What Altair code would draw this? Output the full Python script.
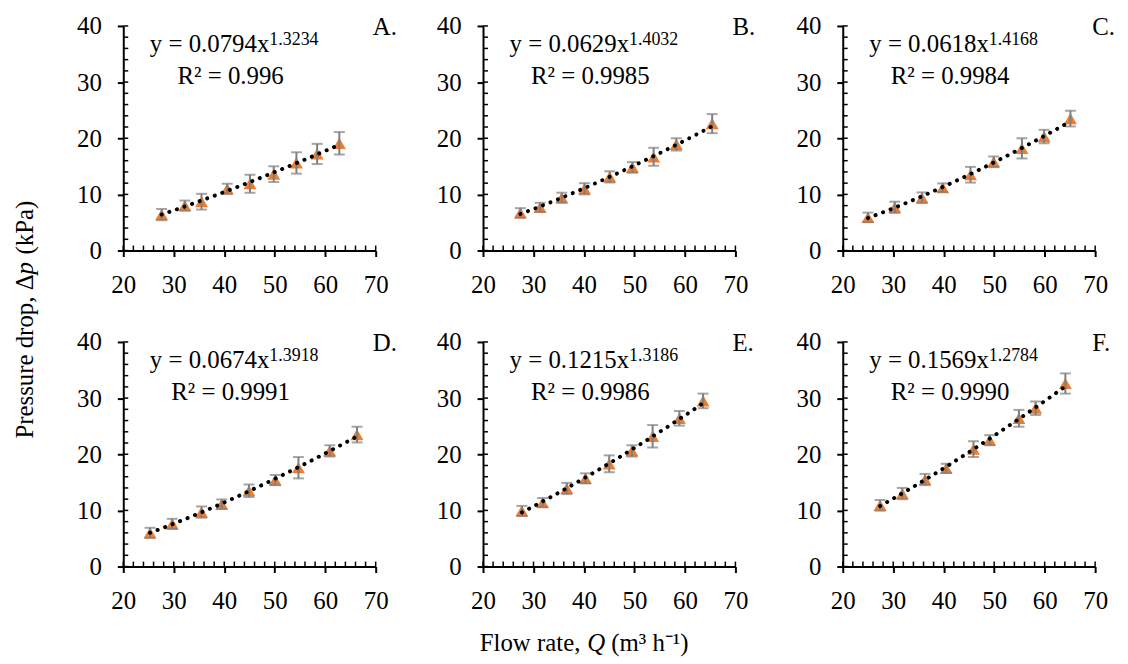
import altair as alt
import pandas as pd

# ---------------- data ----------------
Q_A = [27.6, 32.2, 35.5, 40.6, 45.1, 49.8, 54.3, 58.4, 62.8]
dp_A = [6.4, 8.0, 8.7, 11.0, 11.9, 13.6, 15.6, 17.2, 19.1]
err_A = [1.0, 0.9, 1.4, 0.9, 1.6, 1.4, 1.9, 1.8, 2.0]

Q_B = [27.4, 31.3, 35.6, 40.1, 45.1, 49.6, 53.8, 58.3, 65.4]
dp_B = [6.7, 7.7, 9.4, 11.0, 13.1, 14.8, 16.7, 18.9, 22.6]
err_B = [0.85, 0.8, 0.9, 1.0, 1.0, 0.95, 1.6, 1.1, 1.7]

Q_C = [25.0, 30.3, 35.7, 39.8, 45.3, 49.9, 55.5, 59.9, 65.1]
dp_C = [5.9, 7.7, 9.4, 11.2, 13.5, 15.8, 18.2, 20.3, 23.5]
err_C = [0.85, 1.0, 0.95, 0.75, 1.4, 0.95, 1.8, 1.2, 1.4]

Q_D = [25.3, 29.7, 35.5, 39.5, 44.9, 50.1, 54.7, 60.9, 66.3]
dp_D = [6.0, 7.6, 9.7, 11.1, 13.5, 15.4, 17.6, 20.6, 23.5]
err_D = [0.9, 0.9, 1.0, 0.85, 1.1, 0.9, 1.9, 1.0, 1.4]

Q_E = [27.7, 31.8, 36.6, 40.3, 45.0, 49.5, 53.6, 58.9, 63.6]
dp_E = [9.9, 11.4, 13.9, 15.7, 18.3, 20.6, 23.2, 26.4, 29.5]
err_E = [0.9, 0.8, 1.0, 0.9, 1.5, 1.0, 2.0, 1.3, 1.3]

Q_F = [27.4, 31.8, 36.3, 40.5, 45.9, 49.1, 54.9, 58.2, 64.1]
dp_F = [10.9, 13.0, 15.5, 17.5, 20.9, 22.5, 26.4, 28.2, 32.6]
err_F = [0.95, 1.0, 1.0, 0.8, 1.4, 0.9, 1.5, 1.2, 1.8]

letters = ["A.", "B.", "C.", "D.", "E.", "F."]
coefs = ["0.0794", "0.0629", "0.0618", "0.0674", "0.1215", "0.1569"]
expos = ["1.3234", "1.4032", "1.4168", "1.3918", "1.3186", "1.2784"]
r2s = ["0.996", "0.9985", "0.9984", "0.9991", "0.9986", "0.9990"]

x_major = [20, 30, 40, 50, 60, 70]
y_major = [0, 10, 20, 30, 40]
x_minor = [20, 22, 24, 26, 28, 30, 32, 34, 36, 38, 40, 42, 44, 46, 48, 50,
           52, 54, 56, 58, 60, 62, 64, 66, 68, 70]
y_minor = [0, 2, 4, 6, 8, 10, 12, 14, 16, 18, 20, 22, 24, 26, 28, 30, 32,
           34, 36, 38, 40]

Qs = [Q_A, Q_B, Q_C, Q_D, Q_E, Q_F]
DPs = [dp_A, dp_B, dp_C, dp_D, dp_E, dp_F]
ERRs = [err_A, err_B, err_C, err_D, err_E, err_F]

# ---------------- styling ----------------
W, H = 254, 226
FONT = "Liberation Serif"
ORANGE = "#ED7D31"
GRAY = "#7F7F7F"

xs = alt.Scale(domain=[20, 70], nice=False, zero=False)
ys = alt.Scale(domain=[0, 40], nice=False, zero=False)
xax = alt.Axis(values=x_major, title=None, grid=False, labelPadding=16,
               labelFlush=False)
yax = alt.Axis(values=y_major, title=None, grid=False, labelPadding=16,
               labelFlush=False)

one = alt.InlineData(values=[{"k": 1}])


def txt(text, x, y, size=25, align="left", baseline="alphabetic", italic=False, angle=0):
    kw = dict(text=text, font=FONT, fontSize=size, align=align,
              baseline=baseline, color="black")
    if italic:
        kw["fontStyle"] = "italic"
    if angle:
        kw["angle"] = angle
    return alt.Chart(one).mark_text(**kw).encode(x=alt.value(x), y=alt.value(y))


def panel(i):
    df = pd.DataFrame({"Q": Qs[i], "dp": DPs[i], "err": ERRs[i]})
    base = alt.Chart(df).transform_calculate(
        lo="datum.dp - datum.err", hi="datum.dp + datum.err")
    X = lambda f: alt.X(f, type="quantitative", scale=xs, axis=xax)
    Y = lambda f: alt.Y(f, type="quantitative", scale=ys, axis=yax)

    pts = base.mark_point(shape="triangle-up", filled=True, color=ORANGE,
                          size=170, opacity=1).encode(x=X("Q"), y=Y("dp"))
    bars = base.mark_rule(color=GRAY, strokeWidth=2).encode(
        x=X("Q"), y=Y("lo"), y2="hi:Q")
    cap_lo = base.mark_tick(color=GRAY, thickness=2, size=11,
                            orient="horizontal").encode(x=X("Q"), y=Y("lo"))
    cap_hi = base.mark_tick(color=GRAY, thickness=2, size=11,
                            orient="horizontal").encode(x=X("Q"), y=Y("hi"))
    trend = alt.Chart(df).transform_regression(
        "Q", "dp", method="pow").mark_line(
        color="black", strokeWidth=4, strokeCap="round",
        strokeDash=[0.1, 8]).encode(x=X("Q"), y=Y("dp"))

    xt = alt.Chart(pd.DataFrame({"t": x_minor})).mark_rule(
        color="black", strokeWidth=1.5).encode(
        x=X("t"), y=alt.value(H), y2=alt.value(H - 5))
    yt = alt.Chart(pd.DataFrame({"t": y_minor})).mark_rule(
        color="black", strokeWidth=1.5).encode(
        y=Y("t"), x=alt.value(0), x2=alt.value(5))

    layers = [pts, bars, cap_lo, cap_hi, trend, xt, yt,
              txt("y = " + coefs[i] + "x", 147, 26, align="right"),
              txt(expos[i], 147, 19, size=18),
              txt("R² = " + r2s[i], 108, 58, align="center"),
              txt(letters[i], 251, 9)]

    if i == 3:  # shared y title, placed left of panel D
        layers += [
            txt("Pressure drop, Δ", -99, -68, align="right", baseline="middle", angle=270),
            txt("p", -99, -68, align="left", baseline="middle", angle=270, italic=True),
            txt("(kPa)", -99, -88, align="left", baseline="middle", angle=270),
        ]
    if i == 4:  # shared x title, placed under panel E
        layers += [
            txt("Flow rate,", 98, 311, align="right"),
            txt("Q", 105, 311, italic=True),
            txt("(m³ h⁻¹)", 129, 311),
        ]
    return alt.layer(*layers).properties(width=W, height=H)


chart = alt.concat(*[panel(i) for i in range(6)], columns=3,
                   spacing=alt.RowColnumber(row=92, column=108),
                   bounds="flush").properties(
    padding={"left": 5, "top": 4, "right": 5, "bottom": 5},
    background="white",
).configure_view(stroke=None).configure_axis(
    labelFont=FONT, labelFontSize=25, labelColor="black",
    domainColor="black", domainWidth=2, tickColor="black", tickWidth=2,
    tickSize=6,
)

chart.save("out.html", embed_options={"renderer": "svg", "actions": False})
